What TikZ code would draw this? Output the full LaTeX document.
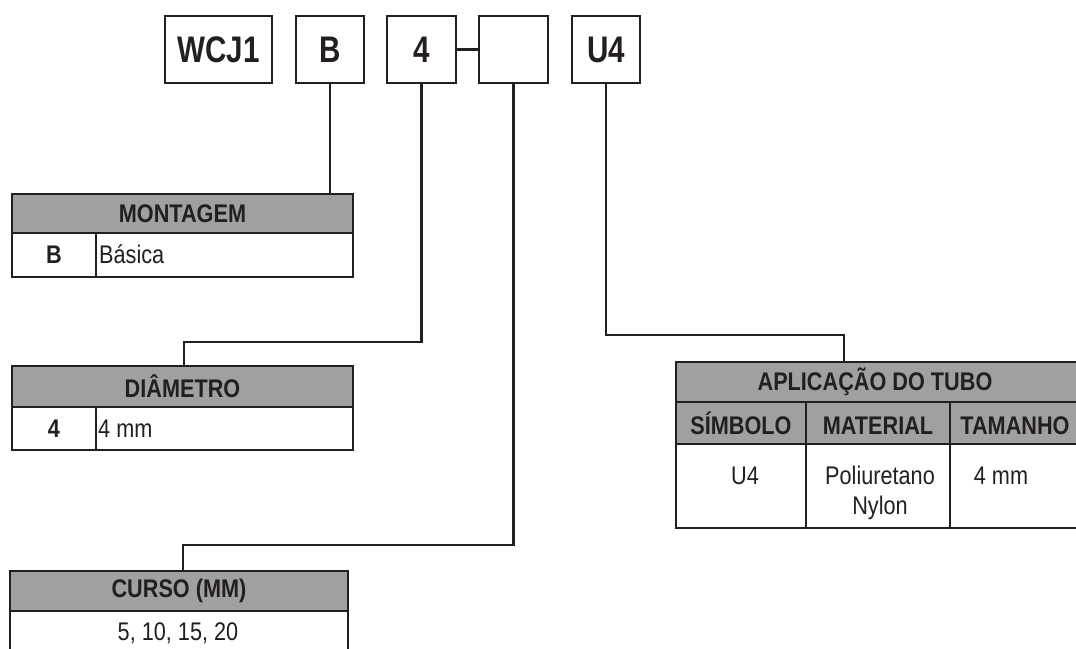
\documentclass[tikz,border=0pt]{standalone}
\usepackage{fontspec}
\setmainfont[FakeStretch=0.85]{Liberation Sans}
\newfontfamily\topfont[FakeStretch=0.8]{Liberation Sans}
\definecolor{ink}{RGB}{35,31,32}
\definecolor{hdrgray}{RGB}{160,160,160}
\begin{document}
\begin{tikzpicture}[x=1pt,y=-1pt,
  lw/.style={line width=2.4pt, draw=ink},
  topbox/.style={lw, minimum height=67pt, inner sep=0pt, font=\topfont\bfseries\fontsize{37}{37}\selectfont, text=ink},
  hdr/.style={lw, fill=hdrgray, inner sep=0pt, font=\bfseries\fontsize{25.5}{26}\selectfont, text=ink},
  cell/.style={lw, fill=white, inner sep=0pt},
  txt/.style={inner sep=0pt, anchor=base, text=ink, font=\fontsize{25.5}{30}\selectfont},
  btxt/.style={txt, font=\bfseries\fontsize{25.5}{30}\selectfont}
]
\useasboundingbox (0,0) rectangle (1076,648);
\clip (0,0) rectangle (1076,648);

% top code boxes
\node[topbox, minimum width=107pt] (bW) at (218.5,49.5) {\raisebox{-2pt}{WCJ1}};
\node[topbox, minimum width=68pt] (bB) at (330,49.5) {\raisebox{-2pt}{B}};
\node[topbox, minimum width=69pt] (b4) at (421.5,49.5) {\raisebox{-2pt}{4}};
\node[topbox, minimum width=69pt] (bE) at (513.5,49.5) {};
\node[topbox, minimum width=68pt] (bU) at (606,49.5) {\raisebox{-2pt}{U4}};

% MONTAGEM table
\node[hdr, minimum width=341pt, minimum height=39pt] (mont) at (182.5,213.5) {MONTAGEM};
\node[cell, minimum width=84pt, minimum height=44pt] (montA) at (54,255) {};
\node[cell, minimum width=257pt, minimum height=44pt] (montB) at (224.5,255) {};
\node[btxt] (montAt) at (54,263) {B};
\node[txt, anchor=base west] (montBt) at (99,263) {Básica};

% DIAMETRO table
\node[hdr, minimum width=341pt, minimum height=41pt] (dia) at (182.5,386.5) {DIÂMETRO};
\node[cell, minimum width=84pt, minimum height=43pt] (diaA) at (54,428.5) {};
\node[cell, minimum width=257pt, minimum height=43pt] (diaB) at (224.5,428.5) {};
\node[btxt] (diaAt) at (54,437) {4};
\node[txt, anchor=base west] (diaBt) at (98,437) {4 mm};

% CURSO table
\node[hdr, minimum width=338pt, minimum height=40pt] (cur) at (179,591) {CURSO (MM)};
\node[cell, minimum width=338pt, minimum height=50pt] (curA) at (179,636) {};
\node[txt] (curAt) at (178,640) {5, 10, 15, 20};

% APLICACAO table
\node[hdr, minimum width=414pt, minimum height=40pt] (apl) at (883,382) {};
\node[btxt] (aplt) at (875,390) {APLICAÇÃO DO TUBO};
\node[hdr, minimum width=130pt, minimum height=42pt] (aplS) at (741,423) {};
\node[hdr, minimum width=144pt, minimum height=42pt] (aplM) at (878,423) {};
\node[hdr, minimum width=140pt, minimum height=42pt] (aplT) at (1020,423) {};
\node[cell, minimum width=130pt, minimum height=84pt] (aplS2) at (741,486) {};
\node[cell, minimum width=144pt, minimum height=84pt] (aplM2) at (878,486) {};
\node[cell, minimum width=140pt, minimum height=84pt] (aplT2) at (1020,486) {};
\node[btxt] (aplSt) at (741,434) {SÍMBOLO};
\node[btxt] (aplMt) at (878,434) {MATERIAL};
\node[btxt] (aplTt) at (1015,434) {TAMANHO};
\node[txt] (u4t) at (745,484) {U4};
\node[txt] (polt) at (880,484) {Poliuretano};
\node[txt] (nylt) at (880,514) {Nylon};
\node[txt] (mm4t) at (1001,484) {4 mm};

% tap coordinates
\coordinate (montTap) at (330,194);
\coordinate (diaElbow) at (184,342);
\coordinate (diaTap) at (184,366);
\coordinate (curElbow) at (183,545);
\coordinate (curTap) at (183,571);
\coordinate (aplElbow) at (844,335);
\coordinate (aplTap) at (844,362);

% connectors
\draw[lw] (b4.east) -- (bE.west);
\draw[lw] (bB.south) -- (montTap);
\draw[lw] (b4.south) |- (diaElbow) -- (diaTap);
\draw[lw] (bE.south) |- (curElbow) -- (curTap);
\draw[lw] (bU.south) |- (aplElbow) -- (aplTap);
\end{tikzpicture}
\end{document}
